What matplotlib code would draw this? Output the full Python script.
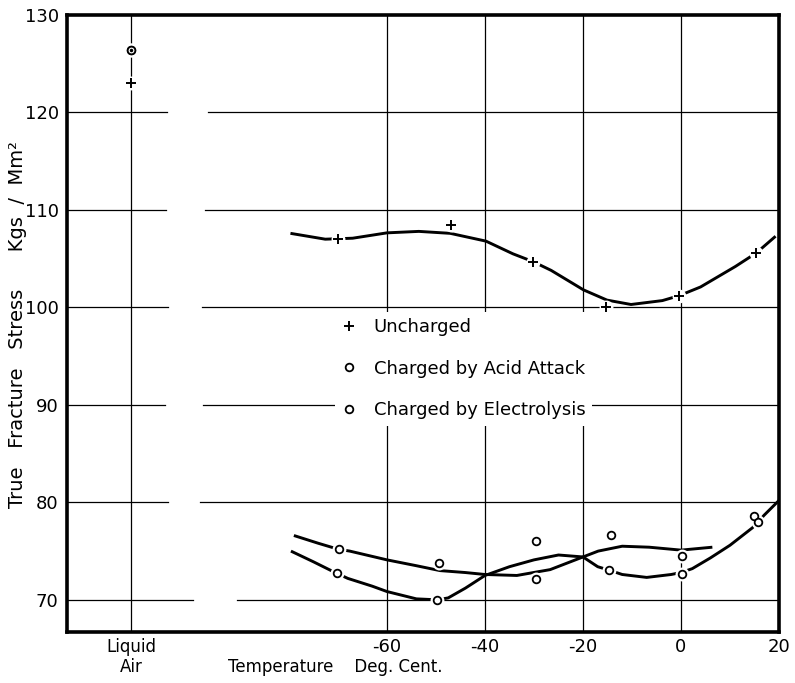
import numpy as np
import matplotlib.pyplot as plt

# position used for the "Liquid Air" column on the temperature axis
LIQUID_AIR = -112.2

# measured points
unch_x = [LIQUID_AIR, -70, -47, -30.2, -15.3, -0.4, 15.4]
unch_y = [123.0, 107.0, 108.5, 104.7, 100.0, 101.2, 105.6]

acid_x = [LIQUID_AIR, -69.8, -49.4, -29.5, -14.3, 0.3, 14.8]
acid_y = [126.4, 75.2, 73.8, 76.05, 76.7, 74.5, 78.6]

elec_x = [LIQUID_AIR, -70.1, -49.7, -29.6, -14.6, 0.3, 15.8]
elec_y = [126.4, 72.8, 70.0, 72.15, 73.1, 72.7, 78.0]

# hand drawn curves
unch_curve_x = [-79.7, -72.6, -67.0, -60, -53.5, -47.1, -39.8, -34.3, -30.2, -26.5,
                -19.9, -15.1, -10.2, -3.8, -0.4, 4.0, 11.1, 15.4, 19.3]
unch_curve_y = [107.6, 107.0, 107.1, 107.65, 107.8, 107.6, 106.8, 105.5, 104.7, 103.8,
                101.8, 100.75, 100.3, 100.7, 101.2, 102.1, 104.2, 105.6, 107.3]

upper_curve_x = [-79, -74, -70, -67.6, -60, -54, -49.2, -44, -40, -33.5, -26.7, -20, -16.9,
                 -12, -6.5, 0, 6.4]
upper_curve_y = [76.6, 75.8, 75.2, 75.0, 74.1, 73.5, 73.0, 72.8, 72.6, 72.5, 73.1, 74.4, 75.0,
                 75.5, 75.4, 75.1, 75.4]

lower_curve_x = [-79.6, -75, -71, -68, -63, -60, -54, -49.7, -47.5, -44, -40, -35, -30, -25,
                 -20, -17, -14.4, -12, -7, -2, 0, 2.3, 6, 10, 14.6, 17, 20]
lower_curve_y = [75.0, 73.9, 72.9, 72.2, 71.4, 70.85, 70.1, 70.0, 70.2, 71.2, 72.5, 73.4,
                 74.1, 74.6, 74.4, 73.4, 73.0, 72.6, 72.3, 72.6, 72.8, 73.2, 74.3, 75.6,
                 77.4, 78.7, 80.2]

x_ticks = [LIQUID_AIR, -60, -40, -20, 0, 20]
x_labels = ['Liquid\nAir', '-60', '-40', '-20', '0', '20']
y_ticks = [70, 80, 90, 100, 110, 120, 130]

grid_y = [70, 80, 90, 100, 110, 120]
grid_x = [LIQUID_AIR, -60, -40, -20, 0]
# the horizontal rules are broken between the Liquid Air column and the scale
gap_lo = [-99.6, -104.7, -105.2, -104.7, -105.0, -104.8]
gap_hi = [-90.6, -98.2, -97.6, -97.8, -97.1, -96.5]

XMIN, XMAX = -125.3, 20
YMIN, YMAX = 66.7, 130

plt.rcParams['font.family'] = ['DejaVu Sans']

fig = plt.figure(figsize=(7.95, 6.83), dpi=100)
ax = fig.add_axes([67 / 795, 1 - 632 / 683, (779 - 67) / 795, (632 - 15) / 683])
ax.set_xlim(XMIN, XMAX)
ax.set_ylim(YMIN, YMAX)

# grid
for yv, lo, hi in zip(grid_y, gap_lo, gap_hi):
    ax.plot([XMIN, lo], [yv, yv], color='black', lw=0.9, zorder=1)
    ax.plot([hi, XMAX], [yv, yv], color='black', lw=0.9, zorder=1)
for xv in grid_x:
    ax.plot([xv, xv], [YMIN, YMAX], color='black', lw=0.9, zorder=1)

# curves
for cx, cy in [(unch_curve_x, unch_curve_y), (upper_curve_x, upper_curve_y),
               (lower_curve_x, lower_curve_y)]:
    ax.plot(cx, cy, color='black', lw=2.1, zorder=2, solid_capstyle='butt',
            solid_joinstyle='round')

# white halos so lines break around the points
for px, py in [(unch_x, unch_y), (acid_x, acid_y), (elec_x, elec_y)]:
    ax.plot(px, py, 'o', color='white', ms=10, mew=0, zorder=3)

h1, = ax.plot(unch_x, unch_y, '+', color='black', ms=7, mew=1.4, zorder=4,
              label='Uncharged')
h2, = ax.plot(acid_x, acid_y, 'o', mfc='white', mec='black', ms=5.5, mew=1.3, zorder=4,
              label='Charged by Acid Attack')
h3, = ax.plot(elec_x, elec_y, 'o', mfc='white', mec='black', ms=5.5, mew=1.3, zorder=4,
              label='Charged by Electrolysis')
# dot in the liquid air circle
ax.plot([LIQUID_AIR], [acid_y[0]], '.', color='black', ms=3, zorder=5)

leg = ax.legend(handles=[h1, h2, h3], loc='upper left', bbox_to_anchor=(335 / 795, 1 - 312 / 683),
                bbox_transform=fig.transFigure, frameon=True, facecolor='white',
                edgecolor='none', framealpha=1, fancybox=False, fontsize=13,
                handlelength=0.8, handletextpad=1.0, labelspacing=1.3, borderpad=0.35,
                borderaxespad=0)
leg.set_zorder(6)

ax.set_xticks(x_ticks)
ax.set_xticklabels(x_labels)
ax.set_yticks(y_ticks)
for lab in ax.get_xticklabels():
    lab.set_fontsize(12 if '\n' in lab.get_text() else 13)
ax.tick_params(axis='y', labelsize=13, length=0, pad=6)
ax.tick_params(axis='x', length=0, pad=4)

for sp in ax.spines.values():
    sp.set_linewidth(2.6)

fig.text(18 / 795, 1 - 325 / 683, 'True   Fracture   Stress      Kgs  /  Mm\u00b2',
         rotation=90, ha='center', va='center', fontsize=14)
fig.text(335 / 795, 1 - 667 / 683, 'Temperature    Deg. Cent.', ha='center', va='center',
         fontsize=12)

fig.savefig('out.png', dpi=100)
